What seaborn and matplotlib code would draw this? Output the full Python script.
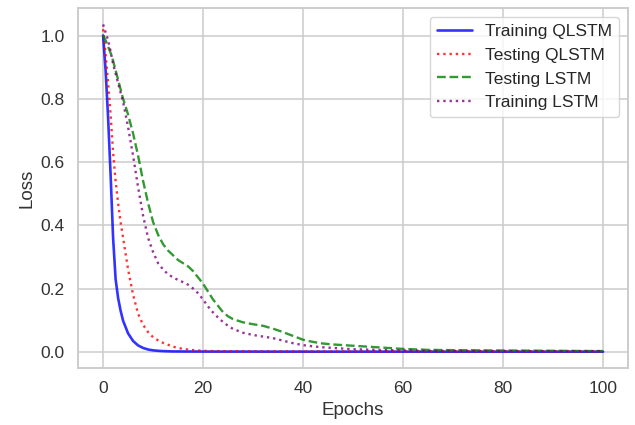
import pandas as pd
import matplotlib
matplotlib.use("Agg")
import matplotlib.pyplot as plt
import seaborn as sns

# epochs sampled (denser where the curves drop fast)
epochs = [0, 0.5, 1, 1.5, 2, 2.5, 3, 3.5, 4,
          5, 6, 7, 8, 9, 10, 11, 12, 13, 14, 15, 16, 17, 18, 19, 20,
          21, 22, 23, 24, 25, 26,
          28, 30, 32, 34, 36, 38, 40, 42, 44, 46, 48, 50,
          55, 60, 65, 70, 80, 90, 100]

train_qlstm = [1.0, 0.89, 0.74, 0.56, 0.36, 0.23, 0.17, 0.13, 0.098,
               0.058, 0.034, 0.02, 0.012, 0.007, 0.0045, 0.003, 0.002, 0.0015, 0.001, 0.001, 0.0008, 0.0008, 0.0007, 0.0007, 0.0006,
               0.0006, 0.0006, 0.0005, 0.0005, 0.0005, 0.0005,
               0.0005, 0.0005, 0.0004, 0.0004, 0.0004, 0.0004, 0.0004, 0.0003, 0.0003, 0.0003, 0.0003, 0.0003,
               0.0003, 0.0003, 0.0003, 0.0002, 0.0002, 0.0002, 0.0002]

test_qlstm = [1.02, 0.94, 0.85, 0.75, 0.63, 0.54, 0.47, 0.41, 0.36,
              0.26, 0.18, 0.12, 0.085, 0.062, 0.046, 0.036, 0.028, 0.022, 0.016, 0.012, 0.009, 0.007, 0.005, 0.004, 0.003,
              0.0025, 0.002, 0.002, 0.0018, 0.0016, 0.0015,
              0.0014, 0.0013, 0.0012, 0.0012, 0.0011, 0.0011, 0.001, 0.001, 0.001, 0.001, 0.001, 0.001,
              0.001, 0.001, 0.001, 0.001, 0.001, 0.001, 0.001]

test_lstm = [1.0, 0.985, 0.965, 0.945, 0.92, 0.89, 0.86, 0.83, 0.80,
             0.75, 0.69, 0.62, 0.54, 0.47, 0.41, 0.37, 0.34, 0.32, 0.305, 0.29, 0.28, 0.27, 0.255, 0.235, 0.215,
             0.19, 0.165, 0.145, 0.125, 0.112, 0.103,
             0.093, 0.087, 0.082, 0.073, 0.062, 0.05, 0.038, 0.031, 0.026, 0.023, 0.021, 0.019,
             0.014, 0.009, 0.006, 0.005, 0.004, 0.003, 0.002]

train_lstm = [1.035, 1.01, 0.985, 0.95, 0.91, 0.88, 0.85, 0.82, 0.79,
              0.71, 0.62, 0.52, 0.43, 0.36, 0.315, 0.28, 0.26, 0.245, 0.235, 0.227, 0.22, 0.212, 0.2, 0.185, 0.165,
              0.143, 0.124, 0.108, 0.094, 0.082, 0.072,
              0.06, 0.053, 0.048, 0.043, 0.035, 0.027, 0.021, 0.017, 0.014, 0.012, 0.01, 0.008,
              0.006, 0.004, 0.003, 0.003, 0.002, 0.002, 0.002]

sns.set_theme(style="whitegrid")
plt.rcParams['font.family'] = ['Liberation Sans', 'DejaVu Sans']
plt.rcParams['grid.linewidth'] = 1.1
plt.rcParams['axes.linewidth'] = 1.4

fig = plt.figure(figsize=(6.35, 4.25), dpi=100)
ax = fig.add_axes([0.123, 0.134, 0.866, 0.847])

sns.lineplot(x=epochs, y=train_qlstm, ax=ax, color='blue', alpha=0.8, linewidth=1.9,
             linestyle='-', label='Training QLSTM')
sns.lineplot(x=epochs, y=test_qlstm, ax=ax, color='red', alpha=0.8, linewidth=1.7,
             linestyle=':', label='Testing QLSTM')
sns.lineplot(x=epochs, y=test_lstm, ax=ax, color='green', alpha=0.8, linewidth=1.7,
             linestyle='--', label='Testing LSTM')
sns.lineplot(x=epochs, y=train_lstm, ax=ax, color='purple', alpha=0.8, linewidth=1.7,
             linestyle=':', label='Training LSTM')

ax.set_xlabel('Epochs', fontsize=13.5)
ax.set_ylabel('Loss', fontsize=13.5)
ax.set_xticks([0, 20, 40, 60, 80, 100])
ax.set_yticks([0.0, 0.2, 0.4, 0.6, 0.8, 1.0])
ax.tick_params(labelsize=12.5, colors='#333333')
ax.xaxis.label.set_color('#333333')
ax.yaxis.label.set_color('#333333')
ax.legend(loc='upper right', fontsize=12.5)

fig.savefig('out.png', dpi=100)
